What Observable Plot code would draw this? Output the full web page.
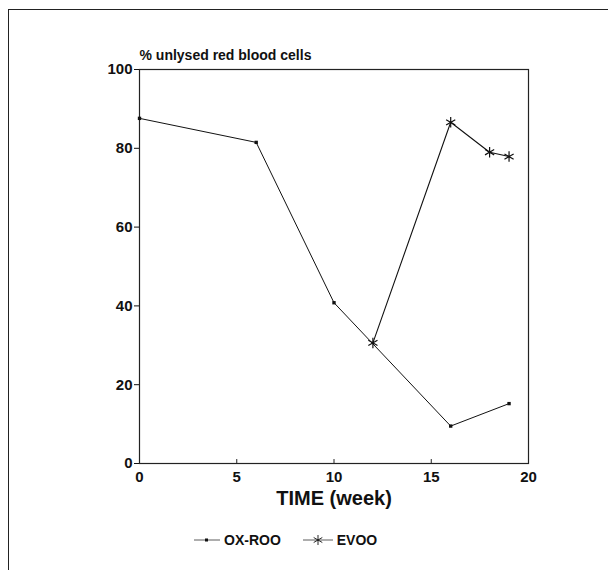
<!DOCTYPE html>
<html>
<head>
<meta charset="utf-8">
<script src="https://cdn.jsdelivr.net/npm/d3@7"></script>
<script src="https://cdn.jsdelivr.net/npm/@observablehq/plot@0.6"></script>
<style>
  html, body { margin: 0; padding: 0; background: #fff; }
  #wrap { position: relative; width: 608px; height: 570px; overflow: hidden; font-family: "Liberation Sans", Arial, sans-serif; }
  #border { position: absolute; left: 8px; top: 9px; width: 620px; height: 600px; border-left: 1.5px solid #222; border-top: 1.5px solid #222; }
  #chart { position: absolute; left: 0; top: 0; }
  #legend { position: absolute; top: 532px; left: 194px; display: flex; align-items: center; font-weight: bold; font-size: 14px; color: #111; }
  #legend .item { display: flex; align-items: center; margin-right: 22px; }
  #legend svg { margin-right: 4px; }
</style>
</head>
<body>
<div id="wrap">
  <div id="border"></div>
  <div id="chart"></div>
  <div id="legend"></div>
</div>
<script>
// Data
const seriesNames = ["OX-ROO", "EVOO"];
const oxWeeks = [0, 6, 10, 16, 19];
const oxValues = [87.6, 81.5, 40.8, 9.5, 15.2];
const evWeeks = [12, 16, 18, 19];
const evValues = [30.6, 86.6, 79.0, 77.9];
const xTicks = [0, 5, 10, 15, 20];
const yTicks = [0, 20, 40, 60, 80, 100];
const yLabel = "% unlysed red blood cells";
const xLabel = "TIME (week)";

const ox = oxWeeks.map((w, i) => ({week: w, value: oxValues[i]}));
const ev = evWeeks.map((w, i) => ({week: w, value: evValues[i]}));

const chart = Plot.plot({
  width: 608,
  height: 515,
  marginLeft: 139,
  marginRight: 80,
  marginTop: 69,
  marginBottom: 52,
  x: {domain: [0, 20], ticks: xTicks},
  y: {domain: [0, 100], ticks: yTicks},
  style: {fontFamily: "'Liberation Sans', Arial, sans-serif", fontWeight: "bold", fontSize: "15px", background: "transparent", color: "#111"},
  marks: [
    Plot.frame({stroke: "#222", strokeWidth: 1.2}),
    Plot.axisY({ticks: yTicks, tickSize: 5, tickPadding: 2, label: null, fontSize: 15}),
    Plot.axisX({ticks: xTicks, tickSize: 0, tickPadding: 8, label: null, fontSize: 15}),
    Plot.ruleX(xTicks, {y1: 0, y2: 1, stroke: "#222"}),
    Plot.text([yLabel], {frameAnchor: "top-left", dy: -14, lineAnchor: "middle", textAnchor: "start", fontSize: 14, fontWeight: "bold"}),
    Plot.text([xLabel], {frameAnchor: "bottom", dy: 35, lineAnchor: "middle", fontSize: 20, fontWeight: "bold"}),
    Plot.line(ox, {x: "week", y: "value", stroke: "#111", strokeWidth: 1}),
    Plot.line(ev, {x: "week", y: "value", stroke: "#111", strokeWidth: 1.1}),
    Plot.dot(ox, {x: "week", y: "value", symbol: "square", r: 1.9, fill: "#111"}),
    Plot.dot(ev, {x: "week", y: "value", symbol: "asterisk", r: 5, stroke: "#111", strokeWidth: 1.2})
  ]
});
document.getElementById("chart").appendChild(chart);

// Legend
const legend = document.getElementById("legend");
const sym = [
  '<svg width="26" height="12"><line x1="0" y1="6" x2="26" y2="6" stroke="#333" stroke-width="0.8"/><rect x="11" y="4.5" width="3" height="3" fill="#111"/></svg>',
  '<svg width="30" height="12"><line x1="0" y1="6" x2="30" y2="6" stroke="#333" stroke-width="0.8"/><g stroke="#111" stroke-width="0.9"><line x1="15" y1="1" x2="15" y2="11"/><line x1="10.7" y1="3.5" x2="19.3" y2="8.5"/><line x1="10.7" y1="8.5" x2="19.3" y2="3.5"/></g></svg>'
];
seriesNames.forEach((n, i) => {
  const d = document.createElement("div");
  d.className = "item";
  d.innerHTML = sym[i] + "<span>" + n + "</span>";
  legend.appendChild(d);
});
</script>
</body>
</html>
